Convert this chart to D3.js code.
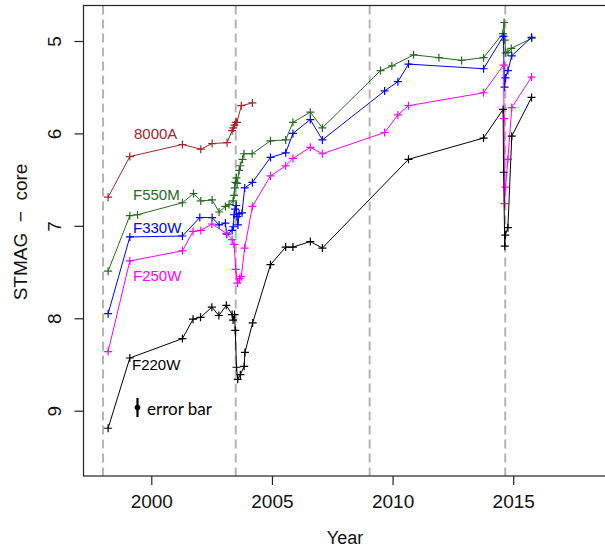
<!DOCTYPE html>
<html>
<head>
<meta charset="utf-8">
<script src="https://cdn.jsdelivr.net/npm/d3@7"></script>
<style>
  body { margin: 0; background: #fff; }
  svg { display: block; font-family: "Liberation Sans", Arial, sans-serif; }
</style>
</head>
<body>
<div id="c"></div>
<script>
"use strict";

// axis ticks and the dashed epoch lines
const xTicks = [2000, 2005, 2010, 2015]
const yTicks = [5, 6, 7, 8, 9]
const epochLines = [1998.0, 2003.5, 2009.05, 2014.67]

// 8000A
const a8000Year = [1998.21, 1999.11, 2001.29, 2002.05, 2002.52, 2003.14, 2003.35, 2003.40, 2003.45, 2003.50, 2003.55, 2003.73, 2004.19]
const a8000Mag  = [6.69, 6.25, 6.12, 6.17, 6.11, 6.10, 5.97, 5.94, 5.91, 5.88, 5.88, 5.70, 5.67]

// F550M
const f550Year = [1998.21, 1999.11, 1999.43, 2001.29, 2001.75, 2002.05, 2002.52, 2002.81, 2003.07, 2003.22,
    2003.39, 2003.43, 2003.46, 2003.49, 2003.53, 2003.56, 2003.64, 2003.69, 2003.78, 2003.84,
    2004.18, 2004.94, 2005.57, 2005.87, 2006.59, 2007.09, 2009.50, 2009.97, 2010.87, 2011.92,
    2012.86, 2013.77, 2014.57, 2014.62, 2014.65, 2014.69, 2014.78, 2014.92, 2015.77]
const f550Mag  = [7.49, 6.89, 6.88, 6.75, 6.65, 6.73, 6.72, 6.85, 6.79, 6.77,
    6.73, 6.67, 6.59, 6.53, 6.48, 6.54, 6.40, 6.35, 6.28, 6.22,
    6.22, 6.08, 6.07, 5.88, 5.77, 5.94, 5.32, 5.27, 5.15, 5.18,
    5.21, 5.18, 4.92, 4.80, 4.99, 5.13, 5.12, 5.08, 4.97]

// F330W
const f330Year = [1998.21, 1999.11, 2001.29, 2002.01, 2002.52, 2002.81, 2003.07, 2003.13, 2003.35, 2003.40,
    2003.43, 2003.47, 2003.52, 2003.55, 2003.59, 2003.64, 2003.76, 2003.87, 2004.19, 2004.94,
    2005.57, 2005.87, 2006.59, 2007.09, 2009.67, 2010.22, 2010.66, 2013.77, 2014.59, 2014.64,
    2014.68, 2014.78, 2014.94, 2015.76]
const f330Mag  = [7.95, 7.12, 7.11, 6.91, 6.91, 6.99, 6.97, 7.09, 7.05, 7.01,
    6.88, 6.82, 6.78, 6.90, 6.99, 6.87, 6.86, 6.59, 6.53, 6.26,
    6.21, 6.00, 5.85, 6.07, 5.54, 5.44, 5.25, 5.30, 4.95, 5.50,
    5.40, 5.32, 5.16, 4.96]

// F250W
const f250Year = [1998.21, 1999.11, 2001.29, 2001.73, 2002.05, 2002.51, 2003.11, 2003.35, 2003.43, 2003.50,
    2003.57, 2003.66, 2003.73, 2003.87, 2004.19, 2004.94, 2005.57, 2005.87, 2006.59, 2007.09,
    2009.67, 2010.22, 2010.66, 2013.77, 2014.60, 2014.62, 2014.64, 2014.68, 2014.78, 2014.94,
    2015.76]
const f250Mag  = [8.36, 7.38, 7.27, 7.06, 7.05, 6.98, 7.08, 7.15, 7.20, 7.47,
    7.62, 7.57, 7.55, 7.24, 6.79, 6.46, 6.35, 6.27, 6.15, 6.22,
    5.99, 5.80, 5.70, 5.56, 5.26, 5.84, 6.76, 6.58, 6.28, 5.72,
    5.39]

// F220W
const f220Year = [1998.21, 1999.11, 2001.29, 2001.73, 2002.04, 2002.51, 2002.80, 2003.11, 2003.35, 2003.39,
    2003.45, 2003.48, 2003.53, 2003.58, 2003.69, 2003.85, 2003.88, 2004.20, 2004.94, 2005.57,
    2005.87, 2006.59, 2007.09, 2010.66, 2013.77, 2014.58, 2014.60, 2014.65, 2014.67, 2014.78,
    2014.94, 2015.76]
const f220Mag  = [9.19, 8.43, 8.22, 8.01, 7.99, 7.88, 7.97, 7.86, 7.96, 8.02,
    7.96, 8.13, 8.53, 8.66, 8.61, 8.52, 8.37, 8.05, 7.42, 7.23,
    7.23, 7.17, 7.24, 6.28, 6.05, 5.74, 6.42, 7.22, 7.10, 7.02,
    6.03, 5.61]

const series = [
    {name: "8000A", color: "#a3262a", year: a8000Year, mag: a8000Mag, lx: 134, ly: 139},
    {name: "F550M", color: "#246b1e", year: f550Year,  mag: f550Mag,  lx: 133, ly: 200},
    {name: "F330W", color: "#0000ff", year: f330Year,  mag: f330Mag,  lx: 133, ly: 233},
    {name: "F250W", color: "#ff00ff", year: f250Year,  mag: f250Mag,  lx: 133, ly: 281},
    {name: "F220W", color: "#000000", year: f220Year,  mag: f220Mag,  lx: 132, ly: 370},
]

const W = 605, H = 547
const plot = {left: 83.5, top: 5.5, bottom: 476}

const svg = d3.select('#c').append('svg')
    .attr('width', W).attr('height', H)

const xScale = d3.scaleLinear()
    .domain([1997.19, 2019.84])
    .range([plot.left, 630])
const yScale = d3.scaleLinear()
    .domain([5, 9])
    .range([41, 410.7])

// dashed epoch lines
svg.append('g').selectAll('line')
    .data(epochLines)
    .enter().append('line')
        .attr('x1', d => xScale(d)).attr('x2', d => xScale(d))
        .attr('y1', plot.top).attr('y2', plot.bottom)
        .attr('stroke', '#b4b4b4')
        .attr('stroke-width', 2)
        .attr('stroke-dasharray', '9,5')

// frame (right side falls outside the picture)
svg.append('rect')
    .attr('x', plot.left).attr('y', plot.top)
    .attr('width', 700).attr('height', plot.bottom - plot.top)
    .attr('fill', 'none')
    .attr('stroke', '#222')
    .attr('stroke-width', 1.2)

// x axis
let xAxis = svg.append('g')
    .attr('transform', 'translate(0,' + plot.bottom + ')')
    .call(d3.axisBottom(xScale).tickValues(xTicks).tickSize(9).tickSizeOuter(0).tickFormat(d3.format('d')))
xAxis.select('.domain').remove()
xAxis.selectAll('line').attr('stroke', '#222').attr('stroke-width', 1.2)
xAxis.selectAll('text')
    .attr('y', 32).attr('dy', null)
    .style('font-size', '19px')
    .attr('fill', '#111')

// y axis
let yAxis = svg.append('g')
    .attr('transform', 'translate(' + plot.left + ',0)')
    .call(d3.axisLeft(yScale).tickValues(yTicks).tickSize(9).tickSizeOuter(0).tickFormat(d3.format('d')))
yAxis.select('.domain').remove()
yAxis.selectAll('line').attr('stroke', '#222').attr('stroke-width', 1.2)
yAxis.selectAll('text')
    .attr('x', null).attr('dy', null)
    .attr('text-anchor', 'middle')
    .attr('transform', 'translate(-23,0) rotate(-90)')
    .style('font-size', '19px')
    .attr('fill', '#111')

// axis titles
svg.append('text')
    .attr('x', 345).attr('y', 544)
    .attr('text-anchor', 'middle')
    .style('font-size', '18px')
    .attr('fill', '#111')
    .text('Year')
svg.append('text')
    .attr('transform', 'translate(27,232) rotate(-90)')
    .attr('text-anchor', 'middle')
    .style('font-size', '19px')
    .style('white-space', 'pre')
    .attr('fill', '#111')
    .text('STMAG  \u2212  core')

// series
const line = d3.line()
    .x(d => xScale(d[0]))
    .y(d => yScale(d[1]))
const arm = 4

series.forEach(s => {
    let pts = d3.zip(s.year, s.mag)
    let g = svg.append('g')
    g.append('path')
        .datum(pts)
        .attr('fill', 'none')
        .attr('stroke', s.color)
        .attr('stroke-width', 1)
        .attr('d', line)
    g.append('path')
        .attr('fill', 'none')
        .attr('stroke', s.color)
        .attr('stroke-width', 1.2)
        .attr('d', pts.map(d => {
            let x = xScale(d[0]), y = yScale(d[1])
            return 'M' + (x - arm) + ',' + y + 'H' + (x + arm) + 'M' + x + ',' + (y - arm) + 'V' + (y + arm)
        }).join(''))
    g.append('text')
        .attr('x', s.lx).attr('y', s.ly)
        .style('font-size', '15px')
        .attr('fill', s.color)
        .text(s.name)
})

// error bar key
let eb = svg.append('g')
eb.append('line')
    .attr('x1', 137.5).attr('x2', 137.5)
    .attr('y1', 398).attr('y2', 417)
    .attr('stroke', '#000').attr('stroke-width', 2.2)
eb.append('circle')
    .attr('cx', 137.5).attr('cy', 407.5).attr('r', 2.8)
    .attr('fill', '#000')
eb.append('text')
    .attr('x', 147).attr('y', 414.5)
    .style('font-family', 'Lato, "Open Sans", sans-serif')
    .style('font-size', '17px')
    .attr('fill', '#000')
    .text('error bar')
</script>
</body>
</html>
